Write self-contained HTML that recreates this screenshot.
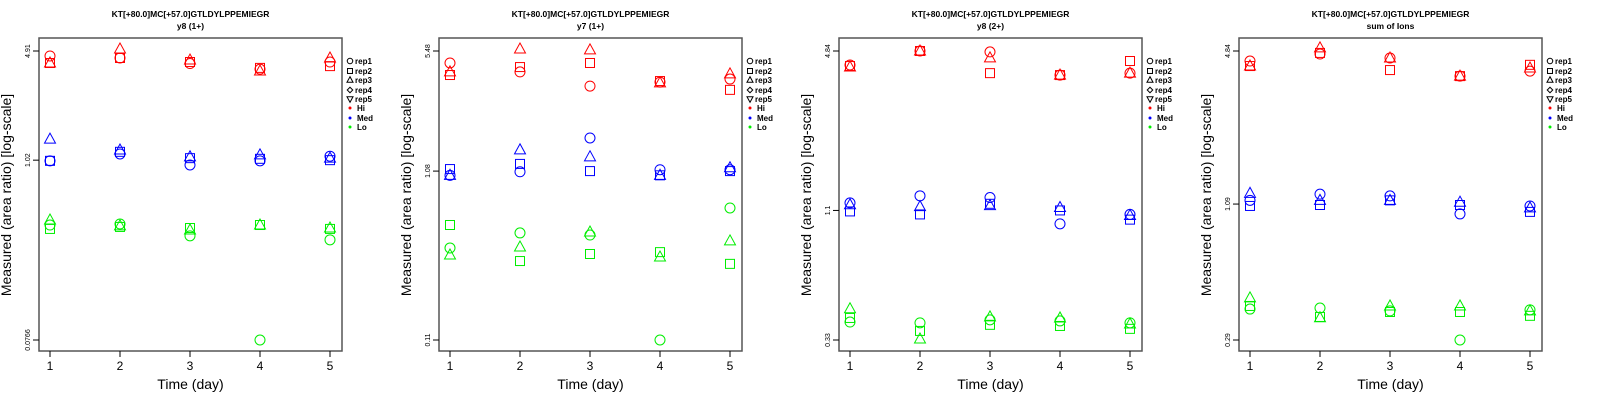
<!DOCTYPE html>
<html><head><meta charset="utf-8"><style>
html,body{margin:0;padding:0;background:#fff;}
svg{display:block;font-family:"Liberation Sans",sans-serif;}
</style></head><body>
<svg id="chart" width="1600" height="400" viewBox="0 0 1600 400" xmlns="http://www.w3.org/2000/svg"></svg>
<script>
const days = [1, 2, 3, 4, 5];
const groups = ["Hi", "Med", "Lo"];
const reps = ["rep1", "rep2", "rep3", "rep4", "rep5"];
const titles1 = ["KT[+80.0]MC[+57.0]GTLDYLPPEMIEGR","KT[+80.0]MC[+57.0]GTLDYLPPEMIEGR","KT[+80.0]MC[+57.0]GTLDYLPPEMIEGR","KT[+80.0]MC[+57.0]GTLDYLPPEMIEGR"];
const titles2 = ["y8 (1+)", "y7 (1+)", "y8 (2+)", "sum of Ions"];
const tickLabels = [["4.91","1.02","0.0766"],["5.48","1.08","0.11"],["4.84","1.1","0.33"],["4.84","1.09","0.29"]];
const tickValues = [[4.91,1.02,0.0766],[5.48,1.08,0.11],[4.84,1.1,0.33],[4.84,1.09,0.29]];
// panel 1: [group][rep][day]
const p1Hi = [[4.57,4.44,4.10,3.78,4.19],[4.13,4.44,4.19,3.85,3.95],[4.13,5.05,4.31,3.68,4.44]];
const p1Med = [[1.01,1.115,0.952,1.01,1.08],[1.01,1.15,1.05,1.04,1.02],[1.38,1.18,1.07,1.10,1.05]];
const p1Lo = [[0.401,0.407,0.343,0.0766,0.324],[0.379,0.390,0.384,0.401,0.379],[0.431,0.396,0.373,0.401,0.384]];
const p2Hi = [[4.66,4.13,3.41,3.60,3.75],[3.96,4.41,4.66,3.65,3.24],[4.13,5.63,5.56,3.56,4.02]];
const p2Med = [[1.02,1.07,1.69,1.10,1.10],[1.11,1.19,1.08,1.02,1.08],[1.02,1.44,1.31,1.02,1.13]];
const p2Lo = [[0.382,0.468,0.455,0.11,0.656],[0.521,0.320,0.352,0.361,0.308],[0.347,0.387,0.474,0.338,0.420]];
const p3Hi = [[4.25,4.84,4.80,3.87,3.94],[4.21,4.84,3.94,3.87,4.41],[4.17,4.84,4.54,3.87,3.94]];
const p3Med = [[1.18,1.26,1.24,0.971,1.06],[1.09,1.06,1.17,1.10,1.01],[1.16,1.14,1.15,1.13,1.05]];
const p3Lo = [[0.390,0.387,0.398,0.394,0.387],[0.405,0.359,0.380,0.376,0.366],[0.441,0.333,0.409,0.405,0.383]];
const p4Hi = [[4.39,4.70,4.52,3.79,3.98],[4.18,4.75,4.02,3.79,4.23],[4.18,4.99,4.52,3.79,4.10]];
const p4Med = [[1.13,1.20,1.18,0.99,1.07],[1.07,1.08,1.13,1.08,1.01],[1.21,1.13,1.13,1.11,1.05]];
const p4Lo = [[0.392,0.396,0.385,0.29,0.389],[0.404,0.363,0.381,0.381,0.367],[0.437,0.360,0.404,0.404,0.385]];
const panelData = [[p1Hi,p1Med,p1Lo],[p2Hi,p2Med,p2Lo],[p3Hi,p3Med,p3Lo],[p4Hi,p4Med,p4Lo]];

const NS = "http://www.w3.org/2000/svg";
const svg = document.getElementById("chart");
const colors = ["#ff0000", "#0000ff", "#00ee00"];
const boxLefts = [39, 439, 839, 1239];
const BOXW = 303, TOP = 38, BOT = 351, YMAXPX = 51, YMINPX = 340;
function mk(tag, attrs, parent) {
  const e = document.createElementNS(NS, tag);
  for (const k in attrs) e.setAttribute(k, attrs[k]);
  (parent || svg).appendChild(e);
  return e;
}
function txt(s, attrs, parent) { const t = mk("text", attrs, parent); t.textContent = s; return t; }
function marker(g, shape, cx, cy, col, s) {
  let e;
  if (shape === 0) e = mk("circle", {cx: cx, cy: cy, r: 5*s, fill: "none", stroke: col, "stroke-width": 1}, g);
  else if (shape === 1) e = mk("rect", {x: cx-4.5*s, y: cy-4.5*s, width: 9*s, height: 9*s, fill: "none", stroke: col, "stroke-width": 1}, g);
  else if (shape === 2) e = mk("polygon", {points: `${cx},${cy-6*s} ${cx-5.5*s},${cy+4*s} ${cx+5.5*s},${cy+4*s}`, fill: "none", stroke: col, "stroke-width": 1}, g);
  else if (shape === 3) e = mk("polygon", {points: `${cx},${cy-5*s} ${cx+5*s},${cy} ${cx},${cy+5*s} ${cx-5*s},${cy}`, fill: "none", stroke: col, "stroke-width": 1}, g);
  else e = mk("polygon", {points: `${cx},${cy+6*s} ${cx-5.5*s},${cy-4*s} ${cx+5.5*s},${cy-4*s}`, fill: "none", stroke: col, "stroke-width": 1}, g);
  return e;
}
for (let p = 0; p < 4; p++) {
  const L = boxLefts[p];
  const g = mk("g", {});
  
  
  const tv = tickValues[p];
  const lmax = Math.log10(tv[0]), lmin = Math.log10(tv[2]);
  const yS = v => YMAXPX + (lmax - Math.log10(v)) / (lmax - lmin) * (YMINPX - YMAXPX);
  const xS = d => L + 11 + (d - 1) * 70;
  const cx = L + BOXW / 2;
  const t1 = txt(titles1[p], {x: cx, y: 17, "text-anchor": "middle", "font-size": 8.5, "font-weight": "bold"}, g);
  
  
  const t2 = txt(titles2[p], {x: cx, y: 29, "text-anchor": "middle", "font-size": 8.5, "font-weight": "bold"}, g);
  
  
  const box = mk("rect", {x: L, y: TOP, width: BOXW, height: BOT - TOP, fill: "none", stroke: "#555", "stroke-width": 1.5}, g);
  
  
  for (let i = 0; i < 3; i++) {
    const y = yS(tv[i]);
    mk("line", {x1: L - 6, x2: L, y1: y, y2: y, stroke: "#000", "stroke-width": 1}, g);
    const tl = txt(tickLabels[p][i], {x: 0, y: 0, "text-anchor": "middle", "font-size": 7, transform: `translate(${L-9},${y}) rotate(-90)`}, g);
    
    
  }
  for (const d of days) {
    const x = xS(d);
    mk("line", {x1: x, x2: x, y1: BOT, y2: BOT + 6, stroke: "#000", "stroke-width": 1}, g);
    const xl = txt(String(d), {x: x, y: 370, "text-anchor": "middle", "font-size": 12}, g);
    
    
  }
  const xt = txt("Time (day)", {x: cx, y: 389, "text-anchor": "middle", "font-size": 14}, g);
  
  
  const yt = txt("Measured (area ratio) [log-scale]", {x: 0, y: 0, "text-anchor": "middle", "font-size": 14, transform: `translate(${L-28},195) rotate(-90)`}, g);
  
  
  const data = panelData[p];
  for (let gi = 0; gi < 3; gi++) {
    for (let r = 0; r < data[gi].length; r++) {
      for (let di = 0; di < days.length; di++) {
        const m = marker(g, r, xS(days[di]), yS(data[gi][r][di]), colors[gi], 1);
        
        
      }
    }
  }
  const lg = mk("g", {}, g);
  
  
  const lx = L + BOXW + 8;
  const rows = [61, 71, 80, 90, 99, 108, 118, 127];
  for (let i = 0; i < 5; i++) {
    marker(lg, i, lx, rows[i], "#000", 0.55);
    const lt = txt(reps[i], {x: lx + 5, y: rows[i] + 3, "font-size": 8, "font-weight": "bold"}, lg);
    
    
  }
  for (let i = 0; i < 3; i++) {
    mk("circle", {cx: lx, cy: rows[5 + i], r: 1.5, fill: colors[i]}, lg);
    const lt = txt(groups[i], {x: lx + 7, y: rows[5 + i] + 3, "font-size": 8, "font-weight": "bold"}, lg);
    
    
  }
}
</script>
</body></html>
